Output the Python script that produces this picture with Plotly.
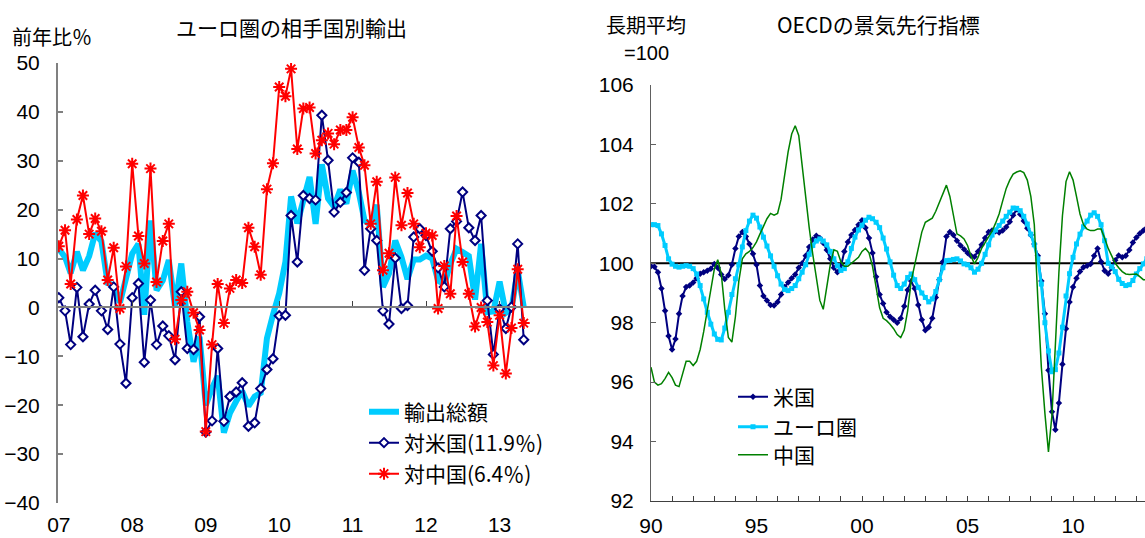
import pandas as pd
import plotly.graph_objects as go

# ---------------- left panel: euro-area exports by destination (y/y %) ----------------
export_months = pd.date_range("2007-01-01", periods=77, freq="MS")

total_exports = [
    12.0, 10.3, 7.0, 11.4, 7.6, 10.5, 15.2, 13.5, 5.0, 4.5, 1.0, 6.0,
    11.0, 13.0, -1.5, 17.8, 3.5, 5.5, 9.7, 0.1, 9.0, -2.9, -11.1, -6.0,
    -20.0, -16.5, -14.0, -25.6, -21.6, -19.2, -17.1, -20.2, -18.2, -17.5, -6.3, -1.5,
    2.9, 9.4, 22.7, 17.2, 21.8, 26.7, 17.1, 29.3, 22.3, 20.6, 24.1, 21.2,
    28.0, 23.5, 17.8, 16.9, 21.0, 4.2, 6.9, 13.7, 10.3, 5.8, 9.8, 9.8,
    10.6, 10.0, 5.5, 4.7, 8.9, 12.0, 11.3, 10.5, 1.6, 13.0, -1.0, -0.8,
    5.3, -1.1, -0.3, 7.6, 0.1,
]

to_us = [
    2.0, -0.7, -7.6, 4.1, -6.0, 0.7, 3.5, -0.7, -4.5, 4.2, -7.5, -15.5,
    2.0, 4.9, -11.2, 1.5, -7.6, -3.8, -5.8, -10.7, 3.2, -8.4, -8.6, -1.9,
    -25.5, -23.2, -8.4, -23.3, -18.2, -17.3, -15.4, -24.3, -23.6, -16.6, -12.7, -10.5,
    -1.7, -1.6, 18.8, 9.3, 22.9, 22.3, 22.0, 39.3, 30.1, 19.5, 21.5, 23.5,
    30.6, 29.7, 7.6, 16.1, 13.7, -0.7, -3.4, 10.1, -0.2, 0.4, 14.4, 16.1,
    14.7, 11.5, 8.1, 4.2, 16.1, 17.6, 23.6, 16.3, 13.7, 18.8, 1.4, -9.6,
    -0.3, -4.3, 0.1, 13.0, -6.6,
]

to_china = [
    12.5, 15.8, 4.8, 18.0, 22.9, 15.0, 18.2, 15.6, 5.6, 12.2, -0.2, 8.4,
    29.4, 14.6, 9.0, 28.4, 5.2, 13.6, 17.1, -6.5, 1.5, 3.2, -1.1, -4.6,
    -25.4, -7.6, 4.8, -3.2, 3.9, 5.6, 5.0, 16.3, 12.4, 6.7, 24.2, 29.5,
    45.1, 43.2, 48.8, 32.4, 40.7, 40.9, 31.5, 34.2, 35.6, 33.4, 36.3, 36.3,
    38.9, 32.7, 29.1, 17.1, 25.7, 7.6, 11.1, 26.6, 16.8, 23.4, 17.1, 12.3,
    15.2, 14.7, -0.2, 8.5, 2.8, 18.7, 9.3, 2.8, -3.9, 0.0, -3.0, -11.9,
    -1.6, -13.5, -4.2, 7.8, -3.2,
]

left_years = [2007, 2008, 2009, 2010, 2011, 2012, 2013, 2014]
left_year_labels = ["07", "08", "09", "10", "11", "12", "13", ""]
left_yticks = [-40, -30, -20, -10, 0, 10, 20, 30, 40, 50]

# ---------------- right panel: OECD composite leading indicators ----------------
cli_dates = pd.date_range("1990-01-01", periods=142, freq="2MS")

cli_us = [
    99.90, 99.88, 99.70, 99.15, 98.40, 97.55,
    97.10, 97.45, 98.30, 98.90, 99.20, 99.25,
    99.35, 99.50, 99.65, 99.70, 99.75, 99.82,
    99.98, 99.85, 99.62, 99.47, 99.60, 99.95,
    100.50, 100.90, 101.05, 100.90, 100.65, 100.32,
    99.95, 99.25, 98.90, 98.75, 98.60, 98.58,
    98.70, 98.95, 99.20, 99.35, 99.50, 99.62,
    99.85, 100.00, 100.25, 100.55, 100.80, 100.93,
    100.85, 100.68, 100.45, 100.15, 99.85, 99.70,
    99.90, 100.40, 100.72, 100.95, 101.12, 101.30,
    101.45, 101.20, 100.85, 100.35, 99.55, 98.95,
    98.65, 98.35, 98.20, 98.10, 98.00, 98.15,
    98.55, 99.10, 99.40, 99.15, 98.60, 98.10,
    97.75, 97.85, 98.15, 98.85, 99.45, 100.05,
    100.90, 101.05, 100.95, 100.76, 100.60, 100.47,
    100.35, 100.25, 100.22, 100.40, 100.62, 100.85,
    101.05, 101.10, 101.08, 101.04, 101.10, 101.22,
    101.40, 101.62, 101.82, 101.65, 101.42, 101.18,
    100.95, 100.65, 100.25, 99.40, 98.30, 96.40,
    95.00, 94.40, 95.30, 96.60, 97.80, 98.70,
    99.20, 99.50, 99.72, 99.87, 99.92, 99.98,
    100.25, 100.50, 100.05, 99.75, 99.65, 99.85,
    100.10, 100.26, 100.20, 100.25, 100.45, 100.70,
    100.87, 101.00, 101.10, 101.20,
]

cli_euro = [
    101.30, 101.30, 101.27, 100.99, 100.60, 100.15,
    99.97, 99.90, 99.87, 99.90, 99.92, 99.90,
    99.82, 99.64, 99.25, 98.80, 98.35, 97.95,
    97.62, 97.44, 97.42, 97.82, 98.35, 98.95,
    99.48, 99.95, 100.55, 101.10, 101.42, 101.62,
    101.52, 101.22, 100.88, 100.58, 100.25, 99.90,
    99.58, 99.30, 99.12, 99.08, 99.15, 99.25,
    99.48, 99.70, 99.95, 100.30, 100.60, 100.75,
    100.82, 100.75, 100.62, 100.40, 100.15, 99.92,
    99.76, 99.82, 100.05, 100.50, 100.88, 101.12,
    101.28, 101.45, 101.55, 101.50, 101.38, 101.20,
    100.85, 100.48, 100.05, 99.60, 99.25, 99.15,
    99.30, 99.52, 99.64, 99.45, 99.19, 99.00,
    98.85, 98.70, 98.80, 99.05, 99.45, 99.85,
    100.09, 100.10, 100.13, 100.15, 100.08, 99.98,
    99.95, 99.85, 99.70, 99.80, 100.00, 100.30,
    100.62, 100.95, 101.12, 101.27, 101.42, 101.58,
    101.72, 101.86, 101.85, 101.77, 101.58, 101.32,
    100.98, 100.62, 100.15, 99.30, 98.00, 97.05,
    96.35, 96.42, 96.98, 97.85, 98.90, 99.65,
    100.20, 100.65, 100.98, 101.23, 101.42, 101.62,
    101.70, 101.58, 101.30, 100.76, 100.00, 99.88,
    99.72, 99.46, 99.32, 99.25, 99.28, 99.42,
    99.64, 99.82, 99.98, 100.15,
]

cli_china = [
    96.50, 96.00, 95.90, 95.95, 96.12, 96.33,
    96.15, 95.90, 95.85, 96.30, 96.70, 96.70,
    96.56, 96.70, 97.10, 97.70, 98.40, 99.15,
    99.80, 100.12, 99.65, 98.45, 97.50, 97.35,
    98.20, 99.40, 100.15, 100.32, 100.40, 100.53,
    100.72, 100.98, 101.26, 101.50, 101.68, 101.62,
    101.68, 102.15, 102.95, 103.75, 104.35, 104.63,
    104.30, 103.25, 102.30, 101.20, 100.30, 99.50,
    98.75, 98.45, 99.25, 99.95, 100.45, 100.40,
    100.05, 99.90, 99.90, 100.00, 100.10, 100.20,
    100.40, 100.50, 100.35, 99.90, 99.20, 98.50,
    98.15, 98.07, 97.95, 97.80, 97.60, 97.50,
    97.75, 98.40, 99.40, 99.98, 100.50, 101.05,
    101.38, 101.45, 101.52, 101.75, 102.05, 102.40,
    102.63, 102.25, 101.60, 100.99, 100.92, 100.82,
    100.60, 100.25, 99.98, 100.20, 100.50, 100.70,
    100.88, 101.08, 101.35, 101.66, 102.10, 102.52,
    102.80, 103.00, 103.07, 103.11, 103.05, 102.80,
    102.25, 101.30, 98.80, 96.50, 94.94, 93.65,
    94.90, 97.30, 99.70, 101.60, 102.75, 103.08,
    102.80, 102.25, 101.66, 101.30, 101.15, 101.10,
    101.10, 101.15, 101.15, 100.85, 100.50, 100.25,
    100.00, 99.85, 99.72, 99.64, 99.62, 99.63,
    99.64, 99.55, 99.45, 99.45,
]

right_years = list(range(1990, 2014))
right_year_labels = [f"{y % 100:02d}" if y % 5 == 0 else "" for y in right_years]
right_yticks = [92, 94, 96, 98, 100, 102, 104, 106]

# ---------------- styling ----------------
W, H = 1145, 538
JP = "Noto Sans CJK JP, Noto Sans CJK SC, sans-serif"
NUM = "Liberation Sans, Arial, sans-serif"
NAVY, SKY, RED, GREEN = "#000080", "#00CCFF", "#FF0000", "#008000"


def fx(px):
    return px / W


def fy(py):
    return 1 - py / H


left_dom_x = [fx(58), fx(573)]
left_dom_y = [fy(503), fy(63)]
right_dom_x = [fx(651), 1.0]
right_dom_y = [fy(501), fy(85)]
left_range = [-40, 50]
zero_pos = left_dom_y[0] + (0 - left_range[0]) / (left_range[1] - left_range[0]) * (left_dom_y[1] - left_dom_y[0])

fig = go.Figure()

# left panel traces
fig.add_trace(go.Scatter(
    x=export_months, y=total_exports, name="輸出総額", mode="lines",
    line=dict(color=SKY, width=6), xaxis="x", yaxis="y", legend="legend",
))
fig.add_trace(go.Scatter(
    x=export_months, y=to_us, name="対米国(11.9％)", mode="lines+markers",
    line=dict(color=NAVY, width=2),
    marker=dict(symbol="diamond", size=7, color="white", line=dict(color=NAVY, width=2)),
    xaxis="x", yaxis="y", legend="legend2",
))
fig.add_trace(go.Scatter(
    x=export_months, y=to_china, name="対中国(6.4％)", mode="lines+markers",
    line=dict(color=RED, width=2),
    marker=dict(symbol="asterisk-open", size=10, color=RED, line=dict(color=RED, width=2)),
    xaxis="x", yaxis="y", legend="legend3",
))
# carrier for the zero-line axis
fig.add_trace(go.Scatter(x=[], y=[], xaxis="x3", yaxis="y", showlegend=False, hoverinfo="skip"))

# right panel traces
fig.add_trace(go.Scatter(
    x=cli_dates, y=cli_us, name="米国", mode="lines+markers",
    line=dict(color=NAVY, width=2), marker=dict(symbol="diamond", size=5, color=NAVY),
    xaxis="x2", yaxis="y2", legend="legend4",
))
fig.add_trace(go.Scatter(
    x=cli_dates, y=cli_euro, name="ユーロ圏", mode="lines+markers",
    line=dict(color=SKY, width=3), marker=dict(symbol="square", size=5, color=SKY),
    xaxis="x2", yaxis="y2", legend="legend5",
))
fig.add_trace(go.Scatter(
    x=cli_dates, y=cli_china, name="中国", mode="lines",
    line=dict(color=GREEN, width=1.5),
    xaxis="x2", yaxis="y2", legend="legend6",
))

# long-term average reference line
fig.add_shape(type="line", xref="x2 domain", x0=0, x1=1, yref="y2", y0=100, y1=100,
              line=dict(color="black", width=2), layer="below")

left_xrange = ["2006-12-28", "2014-01-01"]
left_tickvals = [f"{y}-01-01" for y in left_years]

fig.update_layout(
    width=W, height=H,
    margin=dict(l=0, r=0, t=0, b=0, autoexpand=False),
    paper_bgcolor="white", plot_bgcolor="white",
    font=dict(family=NUM, size=20, color="black"),
    xaxis=dict(
        domain=left_dom_x, anchor="y", type="date", range=left_xrange,
        tickmode="array", tickvals=left_tickvals, ticktext=left_year_labels,
        showline=False, ticks="", showgrid=False, zeroline=False, automargin=False,
        tickfont=dict(family=NUM, size=21), ticklabelstandoff=7,
    ),
    xaxis3=dict(
        overlaying="x", anchor="free", position=zero_pos, type="date", range=left_xrange,
        tickmode="array", tickvals=left_tickvals, showticklabels=False,
        showline=True, linecolor="#808080", linewidth=2,
        ticks="inside", ticklen=5, tickcolor="#404040", tickwidth=1,
        showgrid=False, zeroline=False, automargin=False,
    ),
    yaxis=dict(
        domain=left_dom_y, anchor="x", range=left_range,
        tickmode="array", tickvals=left_yticks,
        showline=True, linecolor="#808080", linewidth=2,
        ticks="inside", ticklen=5, tickcolor="#808080", tickwidth=2,
        showgrid=False, zeroline=False, automargin=False,
        tickfont=dict(family=NUM, size=21), ticklabelstandoff=12,
    ),
    xaxis2=dict(
        domain=right_dom_x, anchor="y2", type="date", range=["1990-01-01", "2013-05-30"],
        tickmode="array", tickvals=[f"{y}-01-01" for y in right_years], ticktext=right_year_labels,
        showline=True, linecolor="#404040", linewidth=1,
        ticks="inside", ticklen=5, tickcolor="#404040", tickwidth=1,
        showgrid=False, zeroline=False, automargin=False,
        tickfont=dict(family=NUM, size=21), ticklabelstandoff=6,
    ),
    yaxis2=dict(
        domain=right_dom_y, anchor="x2", range=[92, 106],
        tickmode="array", tickvals=right_yticks,
        showline=True, linecolor="#606060", linewidth=1,
        ticks="inside", ticklen=5, tickcolor="#606060", tickwidth=1,
        showgrid=False, zeroline=False, automargin=False,
        tickfont=dict(family=NUM, size=21), ticklabelstandoff=12,
    ),
    showlegend=True,
)


def legend_at(px, py):
    return dict(
        x=fx(px), y=fy(py), xanchor="left", yanchor="middle",
        bgcolor="rgba(0,0,0,0)", borderwidth=0,
        font=dict(family=JP, size=21, color="black"),
    )


fig.update_layout(
    legend=legend_at(364, 412),
    legend2=legend_at(364, 443),
    legend3=legend_at(364, 474),
    legend4=legend_at(733, 397),
    legend5=legend_at(733, 427),
    legend6=legend_at(733, 455),
)

texts = [
    ("ユーロ圏の相手国別輸出", 291, 27, 21, JP),
    ("前年比％", 52, 36, 20, JP),
    ("OECDの景気先行指標", 878, 24, 21, JP),
    ("長期平均", 646, 24, 20, JP),
    ("=100", 646, 53, 20, NUM),
]
for txt, px, py, size, family in texts:
    fig.add_annotation(
        text=txt, x=fx(px), y=fy(py), xref="paper", yref="paper",
        xanchor="center", yanchor="middle", showarrow=False, borderpad=0,
        font=dict(family=family, size=size, color="black"),
    )

fig.write_html("out.html")
